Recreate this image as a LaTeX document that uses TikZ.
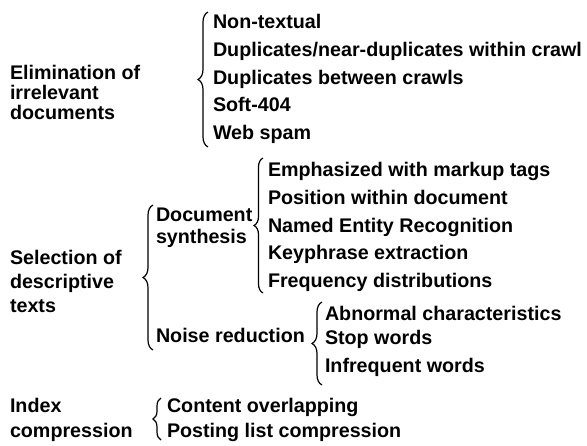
\documentclass[tikz,border=0pt]{standalone}
\usepackage{fontspec}
\setmainfont{Liberation Sans}
\usetikzlibrary{decorations.pathreplacing}
\begin{document}
\begin{tikzpicture}[x=1pt,y=-1pt,
  txt/.style={anchor=base west,inner sep=0pt,outer sep=0pt,font=\fontsize{19.7}{20}\selectfont\bfseries},
  bracebig/.style={decorate,decoration={brace,amplitude=10pt},line width=1.2pt},
  bracesmall/.style={decorate,decoration={brace,amplitude=8pt},line width=1.2pt}]
\useasboundingbox (0,0) rectangle (587,445);
% group 1
\node[txt] (e1) at (10,79) {Elimination of};
\node[txt] (e2) at (10,99) {irrelevant};
\node[txt] (e3) at (10,119) {documents};
\coordinate (b1t) at (208,12);
\coordinate (b1b) at (208,147);
\draw[bracebig] (b1b) -- (b1t);
\node[txt] (i11) at (213,28.5) {Non-textual};
\node[txt] (i12) at (213,56.3) {Duplicates/near-duplicates within crawl};
\node[txt] (i13) at (213,84.1) {Duplicates between crawls};
\node[txt] (i14) at (213,111.9) {Soft-404};
\node[txt] (i15) at (213,139.7) {Web spam};
% group 2
\node[txt] (s1) at (10,264) {Selection of};
\node[txt] (s2) at (10,288) {descriptive};
\node[txt] (s3) at (10,312) {texts};
\coordinate (b2t) at (153,205);
\coordinate (b2b) at (153,350);
\draw[bracebig] (b2b) -- (b2t);
\node[txt] (d1) at (156,221.5) {Document};
\node[txt] (d2) at (156,243.5) {synthesis};
\coordinate (b3t) at (263,158);
\coordinate (b3b) at (263,293);
\draw[decorate,decoration={brace,amplitude=9pt},line width=1.2pt] (b3b) -- (b3t);
\node[txt] (i21) at (268,176) {Emphasized with markup tags};
\node[txt] (i22) at (268,204.5) {Position within document};
\node[txt] (i23) at (268,232) {Named Entity Recognition};
\node[txt] (i24) at (268,259.5) {Keyphrase extraction};
\node[txt] (i25) at (268,287) {Frequency distributions};
\node[txt] (n1) at (156,342) {Noise reduction};
\coordinate (b4t) at (322,302);
\coordinate (b4b) at (322,385);
\draw[bracebig] (b4b) -- (b4t);
\node[txt] (i31) at (325,320.5) {Abnormal characteristics};
\node[txt] (i32) at (325,344) {Stop words};
\node[txt] (i33) at (325,372) {Infrequent words};
% group 3
\node[txt] (x1) at (10,412) {Index};
\node[txt] (x2) at (10,437) {compression};
\coordinate (b5t) at (161,398);
\coordinate (b5b) at (161,440);
\draw[bracesmall] (b5b) -- (b5t);
\node[txt] (i41) at (167,412) {Content overlapping};
\node[txt] (i42) at (167,437) {Posting list compression};
\end{tikzpicture}
\end{document}
